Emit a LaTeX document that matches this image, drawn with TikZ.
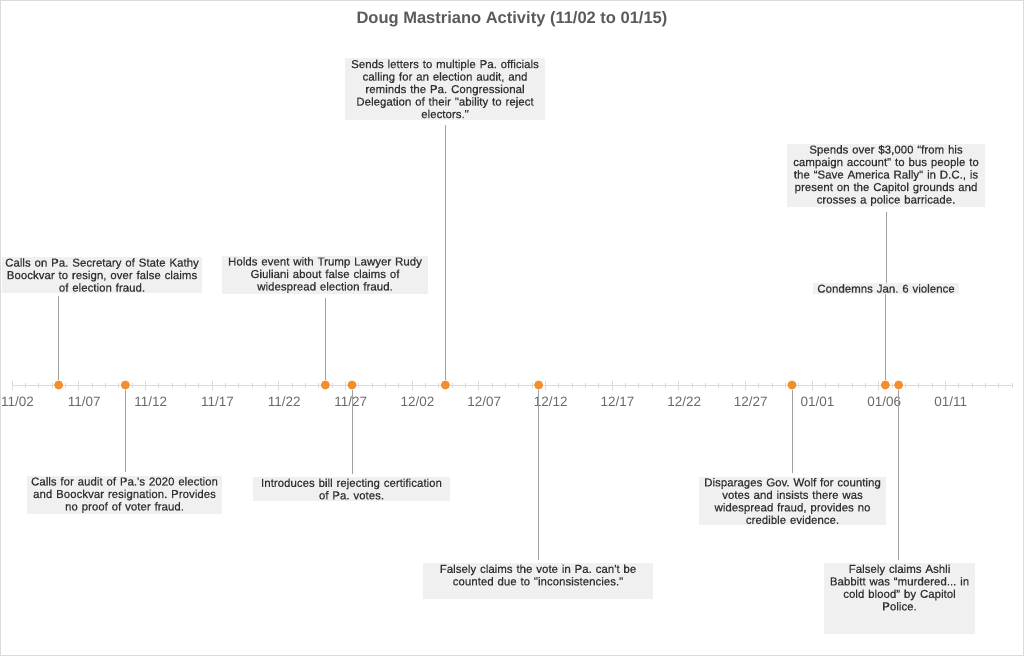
\documentclass[tikz,border=0pt]{standalone}
\usepackage{fontspec}
\setmainfont{Liberation Sans}[Ligatures=TeXOff]
\newfontfamily\notefont{Liberation Sans}[Ligatures=TeXOff, FakeBold=0.5]

\definecolor{dotorange}{HTML}{F28E2B}
\definecolor{notegray}{HTML}{F0F0F0}
\definecolor{notetext}{HTML}{333333}
\definecolor{stemgray}{HTML}{A0A0A0}
\definecolor{axisgray}{HTML}{DADADA}
\definecolor{labelgray}{HTML}{6A6A6A}

% x position of a day (0 = 11/02)
\newcommand{\dayx}[1]{12+13.333*(#1)}

\begin{document}
\frenchspacing
\begin{tikzpicture}[x=1pt, y=-1pt,
  note/.style={fill=notegray, text=notetext, align=center, inner xsep=3pt, inner ysep=1.5pt,
               font=\notefont\fontsize{11.5}{12.5}\selectfont},
  dot/.style={circle, fill=dotorange, inner sep=0pt, minimum size=9pt},
  stem/.style={draw=stemgray, line width=0.9pt}]
\useasboundingbox (0,0) rectangle (1024,656);
\draw[axisgray, line width=0.8pt] (0.5,0.5) rectangle (1023.5,655.5);

\node[text=labelgray!85!black, font=\bfseries\fontsize{16.5}{18}\selectfont] (title) at (512,19) {Doug Mastriano Activity (11/02 to 01/15)};

% axis
\draw[axisgray, line width=0.8pt] ({\dayx{0}},385) -- ({\dayx{75}},385);
\foreach \d in {0,...,75}
  \draw[axisgray, line width=0.6pt] ({\dayx{\d}},382.5) -- ({\dayx{\d}},387.5);
\foreach \t [count=\i from 0] in {11/02,11/07,11/12,11/17,11/22,11/27,12/02,12/07,12/12,12/17,12/22,12/27,01/01,01/06,01/11} {
  \draw[axisgray, line width=0.6pt] ({\dayx{5*\i}},380.5) -- ({\dayx{5*\i}},389.5);
  \node[text=labelgray, font=\fontsize{13.5}{15}\selectfont] at ({\dayx{5*\i}+5.5},402) {\t};
}

% events
\node[dot] (A) at ({\dayx{3.5}},385) {};
\node[dot] (B) at ({\dayx{8.5}},385) {};
\node[dot] (C) at ({\dayx{23.5}},385) {};
\node[dot] (D) at ({\dayx{25.5}},385) {};
\node[dot] (E) at ({\dayx{32.5}},385) {};
\node[dot] (F) at ({\dayx{39.5}},385) {};
\node[dot] (G) at ({\dayx{58.5}},385) {};
\node[dot] (H) at ({\dayx{65.5}},385) {};
\node[dot] (I) at ({\dayx{66.5}},385) {};

% notes above
\node[note, text width=194pt] (a) at (102,275) {Calls on Pa. Secretary of State Kathy\\Boockvar to resign, over false claims\\of election fraud.};
\node[note, text width=200pt] (c) at (325,275) {Holds event with Trump Lawyer Rudy\\Giuliani about false claims of\\widespread election fraud.};
\node[note, text width=194pt] (e) at (445,89) {Sends letters to multiple Pa. officials\\calling for an election audit, and\\reminds the Pa. Congressional\\Delegation of their "ability to reject\\electors."};
\node[note, text width=192pt] (h1) at (886,175.5) {Spends over \$3,000 “from his\\campaign account" to bus people to\\the “Save America Rally" in D.C., is\\present on the Capitol grounds and\\crosses a police barricade.};
\node[note, text width=140pt] (h2) at (886,288.5) {Condemns Jan. 6 violence};

% notes below
\node[note, text width=189pt] (b) at (124.5,495) {Calls for audit of Pa.'s 2020 election\\and Boockvar resignation. Provides\\no proof of voter fraud.};
\node[note, text width=191pt] (d) at (351.5,489) {Introduces bill rejecting certification\\of Pa. votes.};
\node[note, text width=224pt] (f) at (538,581) {Falsely claims the vote in Pa. can't be\\counted due to "inconsistencies."\par\vspace{12pt}};
\node[note, text width=181pt] (g) at (792.5,501) {Disparages Gov. Wolf for counting\\votes and insists there was\\widespread fraud, provides no\\credible evidence.};
\node[note, text width=145pt] (i) at (899.5,598.5) {Falsely claims Ashli\\Babbitt was “murdered... in\\cold blood” by Capitol\\Police.\par\vspace{22pt}};

% stems
\draw[stem, shorten >=3pt] (A) -- (A |- a.south);
\draw[stem, shorten >=3pt] (C) -- (C |- c.south);
\draw[stem, shorten >=5pt] (E) -- (E |- e.south);
\draw[stem] (H) -- (H |- h2.south);
\draw[stem, shorten <=4pt] (h1.south) -- (h2.north);
\draw[stem, shorten >=3pt] (B) -- (B |- b.north);
\draw[stem, shorten >=3pt] (D) -- (D |- d.north);
\draw[stem, shorten >=3pt] (F) -- (F |- f.north);
\draw[stem, shorten >=3pt] (G) -- (G |- g.north);
\draw[stem, shorten >=3pt] (I) -- (I |- i.north);
\end{tikzpicture}
\end{document}
